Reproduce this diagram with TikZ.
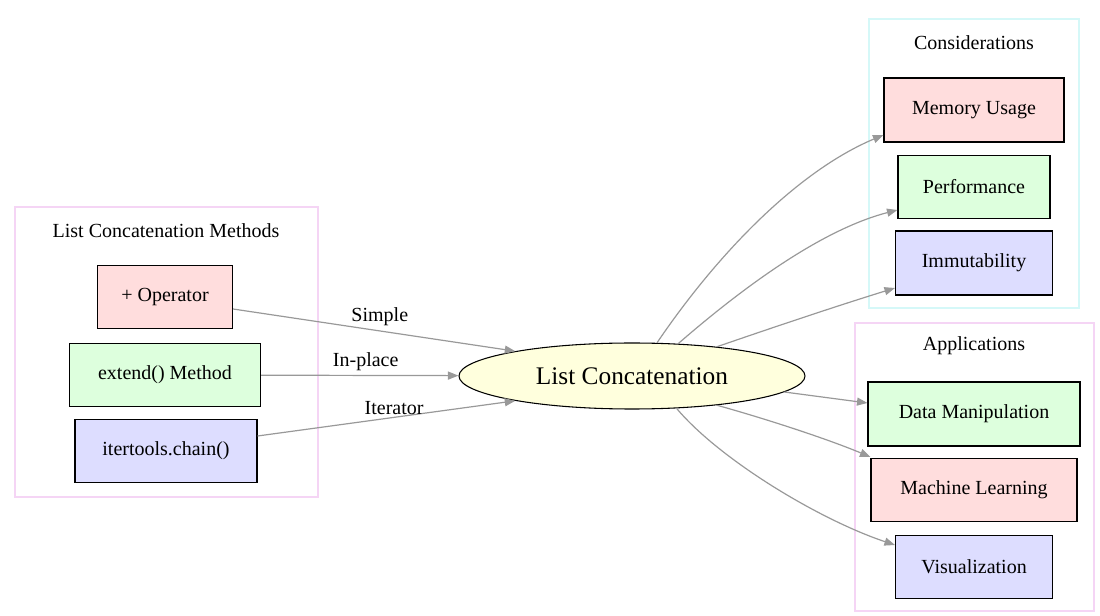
\documentclass[tikz,border=0pt]{standalone}
\usepackage{fontspec}
\setmainfont{Liberation Serif}
\usetikzlibrary{arrows.meta,shapes.geometric}
\definecolor{ered}{HTML}{FFDDDD}
\definecolor{egreen}{HTML}{DDFFDD}
\definecolor{eblue}{HTML}{DDDDFF}
\definecolor{eyel}{HTML}{FFFFDD}
\definecolor{epink}{HTML}{F5D5F5}
\definecolor{ecyan}{HTML}{D5F8F8}
\definecolor{egray}{HTML}{999999}
\begin{document}
\begin{tikzpicture}[x=0.75pt,y=-0.75pt,
  box/.style={draw=black,thick,font=\fontsize{15}{18}\selectfont,inner sep=0pt},
  clus/.style={draw=#1,line width=0.8pt},
  title/.style={font=\fontsize{15}{18}\selectfont},
  edge/.style={draw=egray,line width=0.9pt,-{Triangle[length=10.5pt*0.75,width=8pt*0.75]}},
  lab/.style={font=\fontsize{15}{18}\selectfont}]
\useasboundingbox (0,0) rectangle (1100,616);
\draw[clus=epink] (15,207) rectangle (318,497);
\draw[clus=ecyan] (869,19) rectangle (1079,308);
\draw[clus=epink] (855,323) rectangle (1094,611);
\node[title] (t1) at (166,231) {List Concatenation Methods};
\node[title] (t2) at (974,43) {Considerations};
\node[title] (t3) at (974,346) {Applications};
\node[box,fill=ered,minimum width=135*0.75pt,minimum height=63*0.75pt] (op) at (165,297) {+ Operator};
\node[box,fill=egreen,minimum width=191*0.75pt,minimum height=63*0.75pt] (ext) at (165,375) {extend() Method};
\node[box,fill=eblue,minimum width=182*0.75pt,minimum height=63*0.75pt] (it) at (166,451) {itertools.chain()};
\node[ellipse,draw=black,thick,fill=eyel,minimum width=346*0.75pt,minimum height=66*0.75pt,inner sep=0pt,font=\fontsize{19}{22}\selectfont] (lc) at (632,376) {List Concatenation};
\node[box,fill=ered,minimum width=180*0.75pt,minimum height=64*0.75pt] (mem) at (974,110) {Memory Usage};
\node[box,fill=egreen,minimum width=152*0.75pt,minimum height=63*0.75pt] (perf) at (974,187) {Performance};
\node[box,fill=eblue,minimum width=157*0.75pt,minimum height=64*0.75pt] (imm) at (974,263) {Immutability};
\node[box,fill=egreen,minimum width=212*0.75pt,minimum height=64*0.75pt] (dm) at (974,414) {Data Manipulation};
\node[box,fill=ered,minimum width=206*0.75pt,minimum height=63*0.75pt] (ml) at (974,490) {Machine Learning};
\node[box,fill=eblue,minimum width=157*0.75pt,minimum height=63*0.75pt] (vis) at (974,567) {Visualization};
\draw[edge] (op.east|-0,309) -- (lc.168) node[lab,pos=0.52,above,black] {Simple};
\draw[edge] (ext) -- (lc) node[lab,pos=0.53,above,black] {In-place};
\draw[edge] (it.east|-0,436) -- (lc.192) node[lab,pos=0.53,above,black,yshift=-2pt] {Iterator};
\draw[edge] (lc.53) .. controls (720,250) and (800,170) .. (mem.west|-0,135);
\draw[edge] (lc.35) .. controls (740,290) and (820,230) .. (perf.west|-0,210);
\draw[edge] (lc.19) .. controls (780,325) and (840,305) .. (imm.west|-0,288);
\draw[edge] (lc.-6) -- (dm.west|-0,403);
\draw[edge] (lc.-19) .. controls (770,420) and (830,440) .. (ml.west|-0,457);
\draw[edge] (lc.-36) .. controls (720,460) and (820,520) .. (vis.west|-0,545);
\end{tikzpicture}
\end{document}
